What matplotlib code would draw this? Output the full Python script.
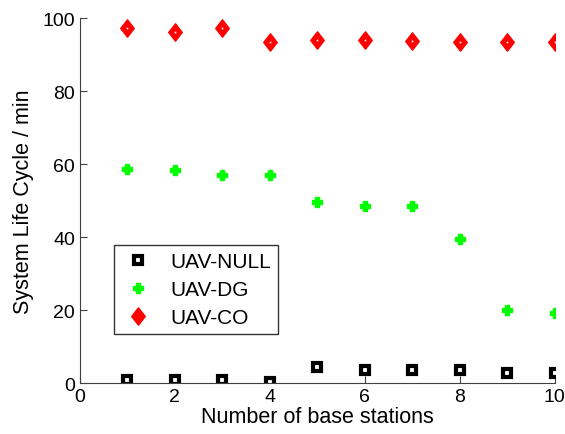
import matplotlib
matplotlib.use("Agg")
import matplotlib.pyplot as plt
from matplotlib.path import Path

plt.rcParams['font.family'] = ['Liberation Sans', 'DejaVu Sans']

x = [1, 2, 3, 4, 5, 6, 7, 8, 9, 10]
uav_null = [0.8, 0.8, 0.8, 0.4, 4.5, 3.6, 3.6, 3.6, 2.7, 2.7]
uav_dg = [58.6, 58.4, 57.0, 57.0, 49.5, 48.6, 48.6, 39.6, 20.1, 19.2]
uav_co = [97.4, 96.2, 97.3, 93.5, 94.1, 94.1, 93.8, 93.5, 93.5, 93.5]

diamond = Path([(0, -1), (0.78, 0), (0, 1), (-0.78, 0), (0, -1)],
               [Path.MOVETO, Path.LINETO, Path.LINETO, Path.LINETO, Path.CLOSEPOLY])

fig = plt.figure(figsize=(5.65, 4.35), dpi=100)
ax = fig.add_axes([0.1416, 0.117, 0.840, 0.839])

ax.plot(x, uav_null, linestyle='none', marker='s', markersize=6.3,
        markerfacecolor='white', markeredgecolor='black', markeredgewidth=3, label='UAV-NULL')
ax.plot(x, uav_dg, linestyle='none', marker='P', markersize=7,
        markerfacecolor='#00ff00', markeredgecolor='#00ff00', markeredgewidth=1, label='UAV-DG')
ax.plot(x, uav_co, linestyle='none', marker=diamond, markersize=12.5,
        markerfacecolor='red', markeredgecolor='red', markeredgewidth=1, label='UAV-CO')
ax.plot(x, uav_co, linestyle='none', marker='s', markersize=1.2,
        markerfacecolor='white', markeredgecolor='white', markeredgewidth=0)

ax.set_xlim(0, 10)
ax.set_ylim(0, 100)
ax.set_xticks([0, 2, 4, 6, 8, 10])
ax.set_yticks([0, 20, 40, 60, 80, 100])
ax.tick_params(direction='in', labelsize=14, length=5, width=0.8, color='#404040', labelcolor='black')
ax.spines['top'].set_visible(False)
ax.spines['right'].set_visible(False)
for s in ('left', 'bottom'):
    ax.spines[s].set_color('#404040')
ax.set_xlabel('Number of base stations', fontsize=15.5, labelpad=1)
ax.set_ylabel('System Life Cycle / min', fontsize=15.5, labelpad=6)

leg = ax.legend(loc='lower left', bbox_to_anchor=(0.0716, 0.134), fontsize=15,
                frameon=True, fancybox=False, edgecolor='black', borderpad=0.35,
                handlelength=1.6, handletextpad=0.75, labelspacing=0.42,
                borderaxespad=0)
leg.get_frame().set_linewidth(1.0)

fig.savefig('out.png', dpi=100)
